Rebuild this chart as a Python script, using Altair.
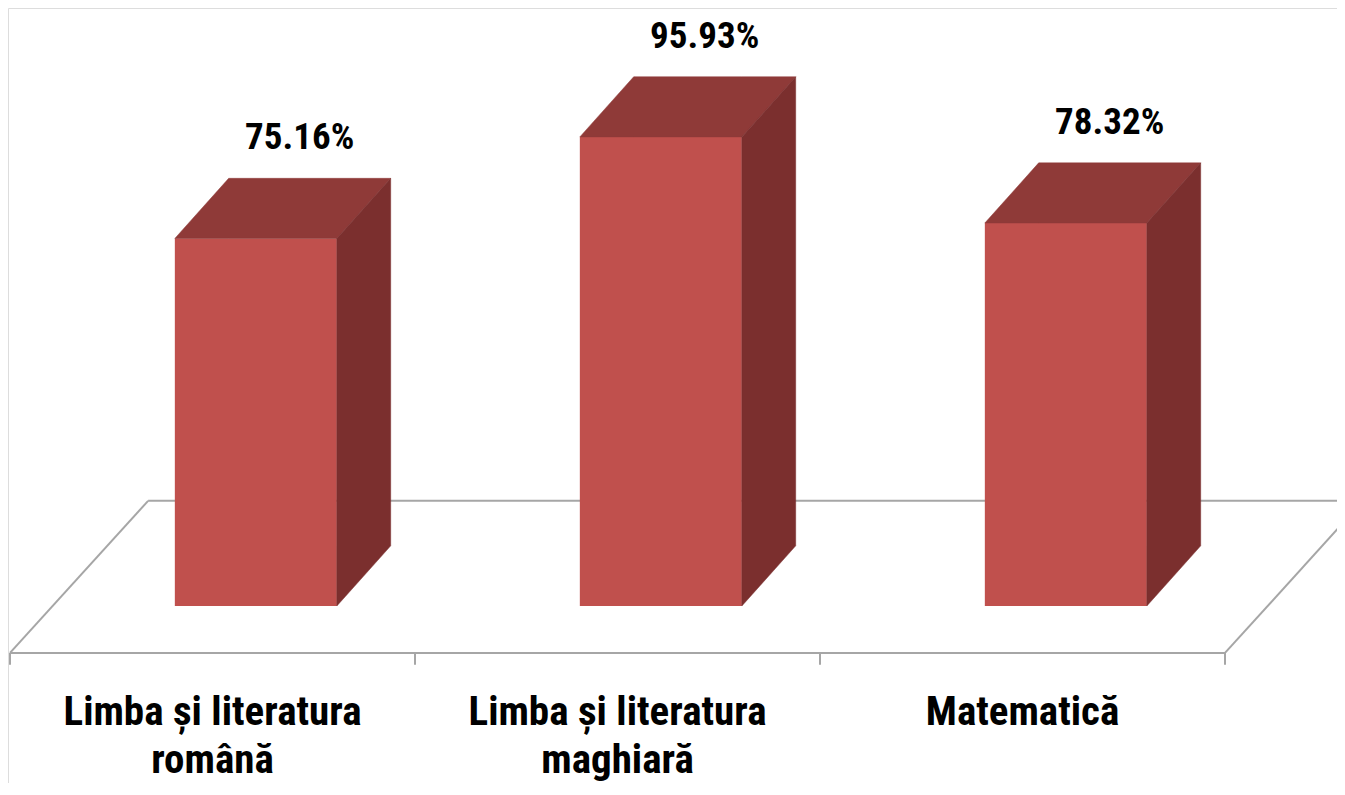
import altair as alt
import pandas as pd

# ---- data ----
categories = ["Limba și literatura română", "Limba și literatura maghiară", "Matematică"]
cat_lines = [["Limba și literatura", "română"], ["Limba și literatura", "maghiară"], ["Matematică"]]
values = [75.16, 95.93, 78.32]
value_labels = ["75.16%", "95.93%", "78.32%"]

# ---- 3D geometry parameters (in scale units) ----
BAR_W = 0.40      # bar width as fraction of a category band
BAR_OFF = 0.407   # offset of bar front inside band
DEPTH_X = 0.133   # bar depth, horizontal shift
DEPTH_V = 12.3    # bar depth, vertical shift (in % units)
FLOOR_FRONT = -9.6
FLOOR_BACK = 21.5
FLOOR_DX = 0.341
N = len(categories)

front, top, side, lab, cat = [], [], [], [], []
for i, (c, v, l) in enumerate(zip(categories, values, value_labels)):
    x0 = i + BAR_OFF
    x1 = x0 + BAR_W
    front.append(dict(cat=c, x0=x0, x1=x1, y0=0, y1=v))
    pts_top = [(x0, v, v), (x0 + DEPTH_X, v + DEPTH_V, v), (x1, v + DEPTH_V, v),
               (x1 + DEPTH_X, v + DEPTH_V, v + DEPTH_V)]
    for x, yt, yb in pts_top:
        top.append(dict(cat=c, x=x, yt=yt, yb=yb))
    for x, yt, yb in [(x1, v, 0), (x1 + DEPTH_X, v + DEPTH_V, DEPTH_V)]:
        side.append(dict(cat=c, x=x, yt=yt, yb=yb))
    lab.append(dict(cat=c, x=x0 + DEPTH_X + BAR_W / 2, y=v + DEPTH_V, label=l))
    cat.append(dict(cat=c, x=i + 0.5, lines=cat_lines[i]))

floor_edges = [
    ("front", [(0, FLOOR_FRONT), (N, FLOOR_FRONT)]),
    ("back", [(FLOOR_DX, FLOOR_BACK), (N + FLOOR_DX, FLOOR_BACK)]),
    ("left", [(0, FLOOR_FRONT), (FLOOR_DX, FLOOR_BACK)]),
    ("right", [(N, FLOOR_FRONT), (N + FLOOR_DX, FLOOR_BACK)]),
]
floor = []
for name, pts in floor_edges:
    for k, (x, y) in enumerate(pts):
        floor.append(dict(edge=name, k=k, x=x, y=y))
ticks = [dict(x=float(i), y0=FLOOR_FRONT, y1=FLOOR_FRONT - 2.4) for i in range(N + 1)]

W, H = 1329, 775
xs = alt.Scale(domain=[-2 / 405, (W - 2) / 405], nice=False, zero=False)
ys = alt.Scale(domain=[(598 - H) / 4.89, 598 / 4.89], nice=False, zero=False)

FONT = "Liberation Sans Narrow, Roboto Condensed, Arial Narrow, Liberation Sans, sans-serif"
GRAY = "#a6a6a6"

floor_layer = alt.Chart(pd.DataFrame(floor)).mark_line(color=GRAY, strokeWidth=2).encode(
    x=alt.X("x:Q", scale=xs, axis=None),
    y=alt.Y("y:Q", scale=ys, axis=None),
    detail="edge:N",
    order="k:Q",
)
tick_layer = alt.Chart(pd.DataFrame(ticks)).mark_rule(color=GRAY, strokeWidth=2).encode(
    x=alt.X("x:Q", scale=xs, axis=None),
    y=alt.Y("y0:Q", scale=ys, axis=None),
    y2="y1:Q",
)
front_layer = alt.Chart(pd.DataFrame(front)).mark_rect(color="#C0504D").encode(
    x=alt.X("x0:Q", scale=xs, axis=None),
    x2="x1:Q",
    y=alt.Y("y0:Q", scale=ys, axis=None),
    y2="y1:Q",
)
top_layer = alt.Chart(pd.DataFrame(top)).mark_area(
    color="#8F3A38", stroke="#8F3A38", strokeWidth=0.5, interpolate="linear"
).encode(
    x=alt.X("x:Q", scale=xs, axis=None),
    y=alt.Y("yt:Q", scale=ys, axis=None, stack=False),
    y2="yb:Q",
    detail="cat:N",
)
side_layer = alt.Chart(pd.DataFrame(side)).mark_area(
    color="#7B2F2E", stroke="#7B2F2E", strokeWidth=0.5, interpolate="linear"
).encode(
    x=alt.X("x:Q", scale=xs, axis=None),
    y=alt.Y("yt:Q", scale=ys, axis=None, stack=False),
    y2="yb:Q",
    detail="cat:N",
)
value_layer = alt.Chart(pd.DataFrame(lab)).mark_text(
    font=FONT, fontSize=37, fontWeight="bold", color="#000000",
    align="center", baseline="alphabetic", dy=-29, dx=-10,
).encode(
    x=alt.X("x:Q", scale=xs, axis=None),
    y=alt.Y("y:Q", scale=ys, axis=None),
    text="label:N",
)
cat_layer = alt.Chart(pd.DataFrame(cat)).mark_text(
    font=FONT, fontSize=41, fontWeight="bold", color="#000000",
    align="center", baseline="alphabetic", lineHeight=48,
).encode(
    x=alt.X("x:Q", scale=xs, axis=None),
    y=alt.value(725 - 8),
    text="lines",
)

chart = alt.layer(
    floor_layer, tick_layer, front_layer, top_layer, side_layer, value_layer, cat_layer
).properties(
    width=W, height=H, padding=0, autosize=alt.AutoSizeParams(type="none")
).configure_view(stroke=None).configure(background="white")

chart.save("out.html", embed_options={"renderer": "svg", "actions": False})
